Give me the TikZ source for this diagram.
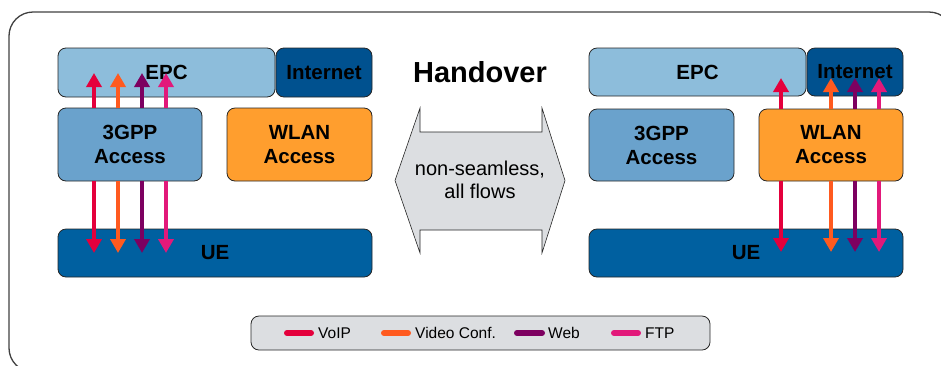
\documentclass[tikz,border=0pt]{standalone}
\usepackage{fontspec}
\setmainfont{Liberation Sans}
\usetikzlibrary{arrows.meta}
\definecolor{epcblue}{HTML}{8DBDDB}
\definecolor{inetblue}{HTML}{00518F}
\definecolor{gppblue}{HTML}{6AA2CC}
\definecolor{wlanorange}{HTML}{FF9E2E}
\definecolor{ueblue}{HTML}{0060A0}
\definecolor{voipc}{HTML}{E4003C}
\definecolor{videoc}{HTML}{FF5A1F}
\definecolor{webc}{HTML}{7D0060}
\definecolor{ftpc}{HTML}{E2197A}
\definecolor{panelgray}{HTML}{DCDEE1}
\tikzset{
  box/.style={draw=black!85, line width=0.8pt, rounded corners=8pt, inner sep=0pt,
    align=center, font=\bfseries\fontsize{20.5}{24}\selectfont},
  flow/.style={line width=3.8pt, -{Triangle[width=15pt,length=14pt]}},
  swatch/.style={line width=6pt, line cap=round},
  legtext/.style={anchor=west, inner sep=0pt, font=\fontsize{15.5}{18}\selectfont}
}
\begin{document}
\begin{tikzpicture}[x=1pt,y=-1pt]
\useasboundingbox (0,0) rectangle (941,365);
\begin{scope}
\clip (0,0) rectangle (941,365);
\draw[line width=1.3pt, draw=black!75, rounded corners=24pt] (9,12) rectangle (953,372);
\end{scope}

% left panel
\node[box, fill=epcblue, minimum width=217pt, minimum height=49pt] (epcL) at (166.5,72.5) {EPC};
\node[box, fill=inetblue, minimum width=96pt, minimum height=49pt] (inetL) at (324,72.5) {Internet};
\node[box, fill=gppblue, minimum width=144pt, minimum height=73pt] (gppL) at (130,144.5) {3GPP\\Access};
\node[box, fill=wlanorange, minimum width=145pt, minimum height=73pt] (wlanL) at (299.5,144.5) {WLAN\\Access};
\node[box, fill=ueblue, minimum width=314pt, minimum height=48pt] (ueL) at (215,253) {UE};

% right panel
\node[box, fill=epcblue, minimum width=217pt, minimum height=48pt] (epcR) at (697.5,72) {EPC};
\node[box, fill=inetblue, minimum width=96pt, minimum height=48pt] (inetR) at (855,72) {Internet};
\node[box, fill=gppblue, minimum width=145pt, minimum height=72pt] (gppR) at (661.5,145) {3GPP\\Access};
\node[box, fill=wlanorange, minimum width=144pt, minimum height=72pt] (wlanR) at (831,145) {WLAN\\Access};
\node[box, fill=ueblue, minimum width=314pt, minimum height=48pt] (ueR) at (746,253) {UE};

% left flows
\coordinate (tL1) at (94,73);  \coordinate (bL1) at (94,253);
\coordinate (tL2) at (118,73); \coordinate (bL2) at (118,253);
\coordinate (tL3) at (142,73); \coordinate (bL3) at (142,253);
\coordinate (tL4) at (166,73); \coordinate (bL4) at (166,253);
\draw[flow, voipc] (gppL.north -| tL1) -- (tL1);
\draw[flow, voipc] (gppL.south -| bL1) -- (bL1);
\draw[flow, videoc] (gppL.north -| tL2) -- (tL2);
\draw[flow, videoc] (gppL.south -| bL2) -- (bL2);
\draw[flow, webc] (gppL.north -| tL3) -- (tL3);
\draw[flow, webc] (gppL.south -| bL3) -- (bL3);
\draw[flow, ftpc] (gppL.north -| tL4) -- (tL4);
\draw[flow, ftpc] (gppL.south -| bL4) -- (bL4);

% right flows
\coordinate (tR1) at (781,78); \coordinate (bR1) at (781,252);
\coordinate (tR2) at (831,78); \coordinate (bR2) at (831,252);
\coordinate (tR3) at (855,78); \coordinate (bR3) at (855,252);
\coordinate (tR4) at (879,78); \coordinate (bR4) at (879,252);
\draw[flow, voipc] (wlanR.north -| tR1) -- (tR1);
\draw[flow, voipc] (wlanR.south -| bR1) -- (bR1);
\draw[flow, videoc] (wlanR.north -| tR2) -- (tR2);
\draw[flow, videoc] (wlanR.south -| bR2) -- (bR2);
\draw[flow, webc] (wlanR.north -| tR3) -- (tR3);
\draw[flow, webc] (wlanR.south -| bR3) -- (bR3);
\draw[flow, ftpc] (wlanR.north -| tR4) -- (tR4);
\draw[flow, ftpc] (wlanR.south -| bR4) -- (bR4);

% handover
\node[font=\bfseries\fontsize{29}{34}\selectfont, inner sep=0pt] (title) at (480,72) {Handover};
\draw[fill=panelgray, draw=black!85, line width=0.6pt]
  (420,108) -- (420,132) -- (542,132) -- (542,108) -- (565,180.5) -- (542,253)
  -- (542,230) -- (420,230) -- (420,253) -- (395,180.5) -- cycle;
\node[align=center, inner sep=0pt, font=\fontsize{20}{23}\selectfont] (ho) at (480,180) {non-seamless,\\all flows};

% legend
\node[draw=black!85, line width=0.8pt, fill=panelgray, rounded corners=8pt,
  minimum width=459pt, minimum height=34pt] (legend) at (480.5,333) {};
\draw[swatch, voipc] (287,333) -- (311,333);
\node[legtext] (lvoip) at (318,333) {VoIP};
\draw[swatch, videoc] (384,333) -- (408,333);
\node[legtext] (lvideo) at (415,333) {Video Conf.};
\draw[swatch, webc] (517,333) -- (542,333);
\node[legtext] (lweb) at (548,333) {Web};
\draw[swatch, ftpc] (614,333) -- (638,333);
\node[legtext] (lftp) at (645,333) {FTP};
\end{tikzpicture}
\end{document}
